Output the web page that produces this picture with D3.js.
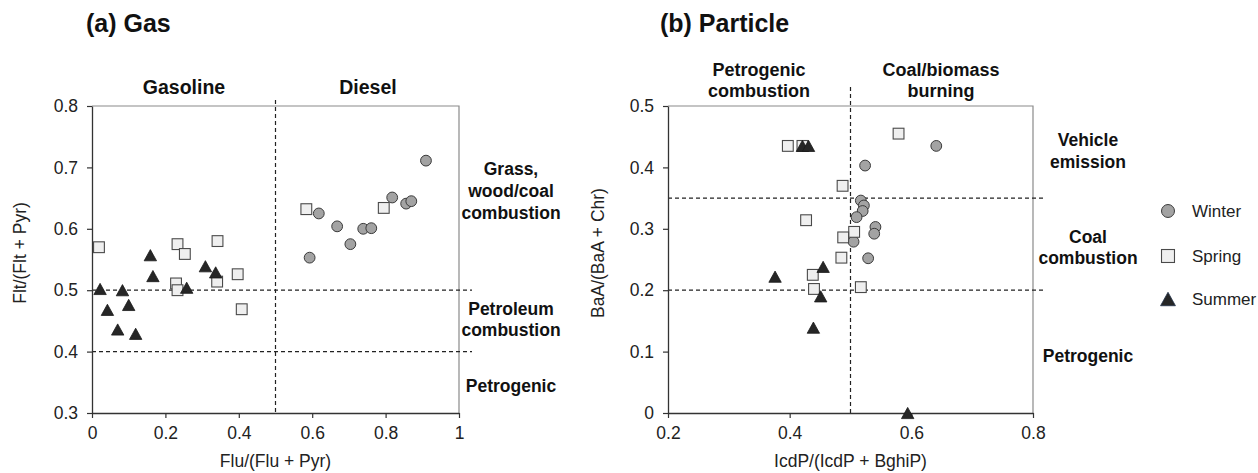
<!DOCTYPE html>
<html><head><meta charset="utf-8">
<script src="https://cdn.jsdelivr.net/npm/d3@7"></script>
<style>body{margin:0;background:#fff}svg{display:block;font-family:"Liberation Sans",Arial,sans-serif}</style>
</head><body><svg id="c" width="1258" height="473"></svg>
<script>
// ---- Data (a) Gas: [Flu/(Flu+Pyr), Flt/(Flt+Pyr)]
const gasWinter = [[0.593,0.553],[0.618,0.625],[0.668,0.604],[0.704,0.575],[0.739,0.600],[0.761,0.601],[0.818,0.651],[0.856,0.641],[0.870,0.645],[0.910,0.711]];
const gasSpring = [[0.019,0.570],[0.233,0.575],[0.253,0.559],[0.342,0.580],[0.397,0.526],[0.229,0.511],[0.233,0.500],[0.341,0.514],[0.408,0.469],[0.584,0.632],[0.795,0.634]];
const gasSummer = [[0.022,0.502],[0.083,0.500],[0.042,0.468],[0.100,0.476],[0.070,0.436],[0.119,0.429],[0.159,0.557],[0.166,0.523],[0.309,0.539],[0.337,0.529],[0.258,0.504]];
// ---- Data (b) Particle: [IcdP/(IcdP+BghiP), BaA/(BaA+Chr)]
const partWinter = [[0.641,0.435],[0.524,0.403],[0.517,0.346],[0.522,0.338],[0.520,0.329],[0.510,0.319],[0.541,0.303],[0.539,0.292],[0.505,0.279],[0.529,0.252]];
const partSpring = [[0.397,0.435],[0.421,0.435],[0.427,0.314],[0.438,0.225],[0.440,0.202],[0.579,0.455],[0.487,0.370],[0.506,0.295],[0.488,0.286],[0.485,0.253],[0.517,0.205]];
const partSummer = [[0.421,0.435],[0.431,0.435],[0.376,0.222],[0.455,0.238],[0.451,0.190],[0.439,0.139],[0.594,0.0]];

const seasons = ["Winter","Spring","Summer"];
const gasXTicks = [0,0.2,0.4,0.6,0.8,1];
const gasXLabels = ["0","0.2","0.4","0.6","0.8","1"];
const gasYTicks = [0.3,0.4,0.5,0.6,0.7,0.8];
const gasYLabels = ["0.3","0.4","0.5","0.6","0.7","0.8"];
const partXTicks = [0.2,0.4,0.6,0.8];
const partXLabels = ["0.2","0.4","0.6","0.8"];
const partYTicks = [0,0.1,0.2,0.3,0.4,0.5];
const partYLabels = ["0","0.1","0.2","0.3","0.4","0.5"];
const gasVLines = [0.5];
const gasHLines = [0.4,0.5];
const partVLines = [0.5];
const partHLines = [0.2,0.35];

const svg = d3.select("#c");
svg.append("rect").attr("width",1258).attr("height",473).attr("fill","#fff");

const style = {
  Winter:{fill:"#a3a3a3",stroke:"#3a3a3a"},
  Spring:{fill:"#efefef",stroke:"#4a4a4a"},
  Summer:{fill:"#262626",stroke:"#1a1a1a"}
};
function marker(g, type, x, y, scale, edge){
  const s = scale||1;
  if(type==="Winter"){
    g.append("circle").attr("cx",x).attr("cy",y).attr("r",5.4*s)
      .attr("fill",style.Winter.fill).attr("stroke",style.Winter.stroke).attr("stroke-width",1);
  } else if(type==="Spring"){
    const h=5.4*s;
    g.append("rect").attr("x",x-h).attr("y",y-h).attr("width",2*h).attr("height",2*h)
      .attr("fill",style.Spring.fill).attr("stroke",style.Spring.stroke).attr("stroke-width",1.1);
  } else {
    const w=6.2*s, h=5.6*s;
    g.append("path").attr("d",`M${x},${y-h}L${x+w},${y+h}L${x-w},${y+h}Z`)
      .attr("fill",style.Summer.fill).attr("stroke",edge||style.Summer.stroke).attr("stroke-width",0.8);
  }
}

function panel(cfg){
  const x = d3.scaleLinear().domain(cfg.xd).range([cfg.x0,cfg.x1]);
  const y = d3.scaleLinear().domain(cfg.yd).range([cfg.y1,cfg.y0]);
  const g = svg.append("g");
  g.append("path").attr("d",`M${cfg.x0},${cfg.y0}H${cfg.x1}V${cfg.y1}`).attr("fill","none").attr("stroke","#8a8a8a").attr("stroke-width",1.2);
  cfg.hLines.forEach(v=>g.append("line").attr("x1",cfg.x0).attr("x2",cfg.x1+cfg.hExt).attr("y1",y(v)).attr("y2",y(v))
    .attr("stroke","#222").attr("stroke-width",1.2).attr("stroke-dasharray","4,3"));
  cfg.vLines.forEach(v=>g.append("line").attr("x1",x(v)).attr("x2",x(v)).attr("y1",cfg.y0-cfg.vExt).attr("y2",cfg.y1)
    .attr("stroke","#222").attr("stroke-width",1.2).attr("stroke-dasharray","4,3"));
  const ax = g.append("g").attr("transform",`translate(0,${cfg.y1})`)
    .call(d3.axisBottom(x).tickValues(cfg.xt).tickFormat((d,i)=>cfg.xl[i]).tickSize(5).tickSizeOuter(0).tickPadding(9));
  const ay = g.append("g").attr("transform",`translate(${cfg.x0},0)`)
    .call(d3.axisLeft(y).tickValues(cfg.yt).tickFormat((d,i)=>cfg.yl[i]).tickSize(5).tickSizeOuter(0).tickPadding(9));
  [ax,ay].forEach(a=>{
    a.select(".domain").attr("stroke","#333").attr("stroke-width",1.3);
    a.selectAll(".tick line").attr("stroke","#333").attr("stroke-width",1.2);
    a.selectAll(".tick text").attr("fill","#222").style("font-size","17.5px").style("font-family","'Liberation Sans',Arial,sans-serif");
  });
  const pts = g.append("g");
  cfg.series.forEach((arr,i)=>arr.forEach(d=>marker(pts, seasons[i], x(d[0]), y(d[1]))));
  g.append("text").attr("x",(cfg.x0+cfg.x1)/2).attr("y",467).attr("text-anchor","middle")
    .attr("fill","#222").style("font-size","17.5px").text(cfg.xTitle);
  g.append("text").attr("transform",`translate(${cfg.yTitleX},253) rotate(-90)`).attr("text-anchor","middle")
    .attr("fill","#222").style("font-size","17.5px").text(cfg.yTitle);
  return {x,y};
}

panel({x0:92,x1:459,y0:106,y1:413,xd:[0,1],yd:[0.3,0.8],xt:gasXTicks,xl:gasXLabels,yt:gasYTicks,yl:gasYLabels,
  hLines:gasHLines,vLines:gasVLines,hExt:13,vExt:6,series:[gasWinter,gasSpring,gasSummer],
  xTitle:"Flu/(Flu + Pyr)",yTitle:"Flt/(Flt + Pyr)",yTitleX:26});
panel({x0:668,x1:1033,y0:106,y1:413,xd:[0.2,0.8],yd:[0,0.5],xt:partXTicks,xl:partXLabels,yt:partYTicks,yl:partYLabels,
  hLines:partHLines,vLines:partVLines,hExt:12,vExt:19,series:[partWinter,partSpring,partSummer],
  xTitle:"IcdP/(IcdP + BghiP)",yTitle:"BaA/(BaA + Chr)",yTitleX:604});

function boldText(lines, cx, y0, lh, size){
  const t = svg.append("text").attr("text-anchor","middle").attr("fill","#111")
    .style("font-weight","bold").style("font-size",size+"px");
  lines.forEach((l,i)=>t.append("tspan").attr("x",cx).attr("y",y0+i*lh).text(l));
}
svg.append("text").attr("x",86).attr("y",32).style("font-weight","bold").style("font-size","25px").attr("fill","#111").text("(a) Gas");
svg.append("text").attr("x",660).attr("y",32).style("font-weight","bold").style("font-size","25px").attr("fill","#111").text("(b) Particle");
boldText(["Gasoline"],184,94,21,19.5);
boldText(["Diesel"],368,94,21,19.5);
boldText(["Petrogenic","combustion"],759,76,21,18);
boldText(["Coal/biomass","burning"],941,76,21,18);
boldText(["Grass,","wood/coal","combustion"],511,175,22,17.5);
boldText(["Petroleum","combustion"],511,315,21,17.5);
boldText(["Petrogenic"],511,392,21,17.5);
boldText(["Vehicle","emission"],1088,146,22,17.5);
boldText(["Coal","combustion"],1088,243,21,17.5);
boldText(["Petrogenic"],1088,362,21,17.5);
const lg = svg.append("g");
const legY = [211,256,299];
seasons.forEach((s,i)=>{
  marker(lg, s, 1168, legY[i], 1.2, "#22324a");
  lg.append("text").attr("x",1192).attr("y",legY[i]+6).attr("fill","#222").style("font-size","17px").text(s);
});
</script></body></html>
